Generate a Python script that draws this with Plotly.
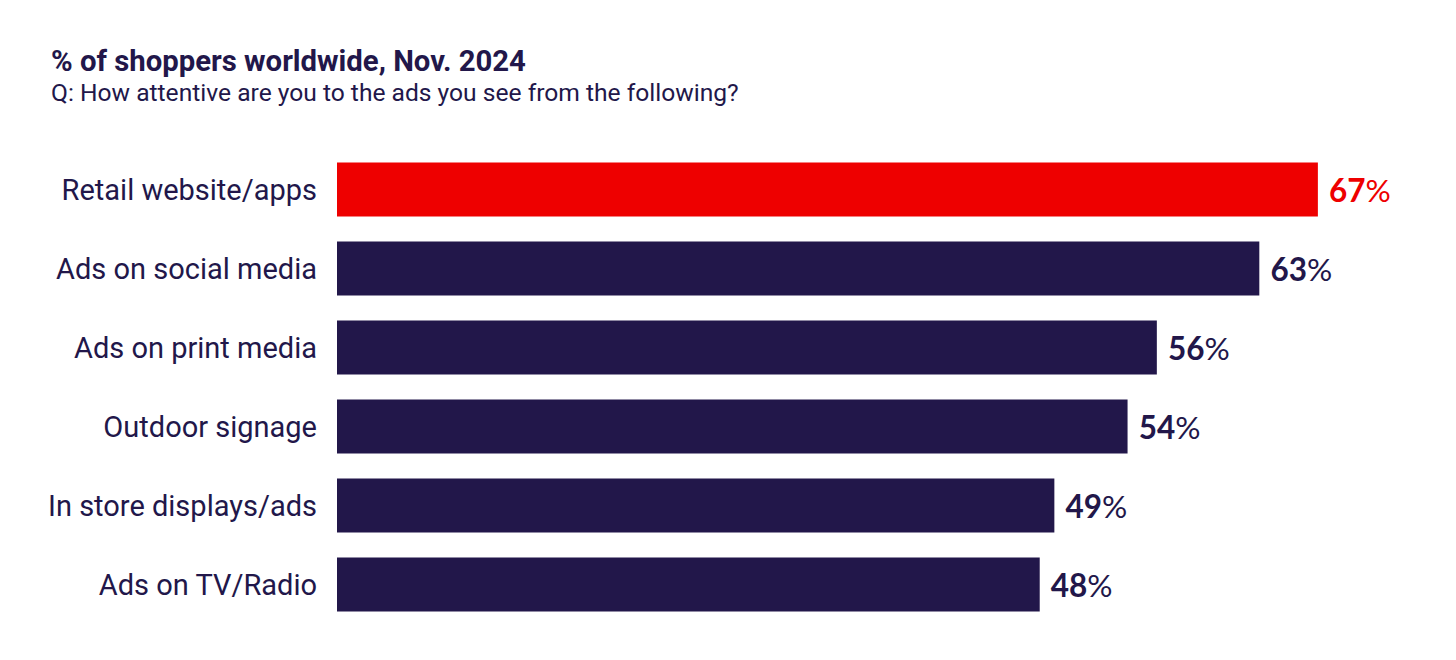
import plotly.graph_objects as go

# data
channels = ["Retail website/apps", "Ads on social media", "Ads on print media",
            "Outdoor signage", "In store displays/ads", "Ads on TV/Radio"]
shares = [67, 63, 56, 54, 49, 48]

NAVY = "#22174A"
RED = "#EE0000"
colors = [RED] + [NAVY] * (len(channels) - 1)
labels = ["\u00a0<b>%d</b>%%" % v for v in shares]

fig = go.Figure(go.Bar(
    x=shares, y=channels, orientation="h",
    marker=dict(color=colors, line=dict(width=0)),
    text=labels, textposition="outside", cliponaxis=False,
    textfont=dict(family="Lato", size=31.5, color=colors),
    hoverinfo="skip",
))

fig.update_layout(
    width=1456, height=660,
    margin=dict(l=329, r=29, t=142, b=44),
    paper_bgcolor="white", plot_bgcolor="white",
    bargap=0.316, showlegend=False,
    font=dict(family="Roboto", color=NAVY),
)
fig.update_xaxes(range=[0, 75], visible=False)
fig.update_yaxes(autorange="reversed", showgrid=False, zeroline=False,
                 showline=False, ticks="", ticklabelstandoff=19,
                 tickfont=dict(family="Roboto", size=29, color=NAVY))

# title + question
fig.add_annotation(text="<b>% of shoppers worldwide, Nov. 2024</b>",
                   xref="paper", yref="paper", x=-0.2623, y=1.187,
                   xanchor="left", yanchor="middle", showarrow=False,
                   font=dict(family="Roboto", size=29.3, color=NAVY))
fig.add_annotation(text="Q: How attentive are you to the ads you see from the following?",
                   xref="paper", yref="paper", x=-0.2623, y=1.121,
                   xanchor="left", yanchor="middle", showarrow=False,
                   font=dict(family="Roboto", size=24.6, color=NAVY))

fig.write_html("out.html")
